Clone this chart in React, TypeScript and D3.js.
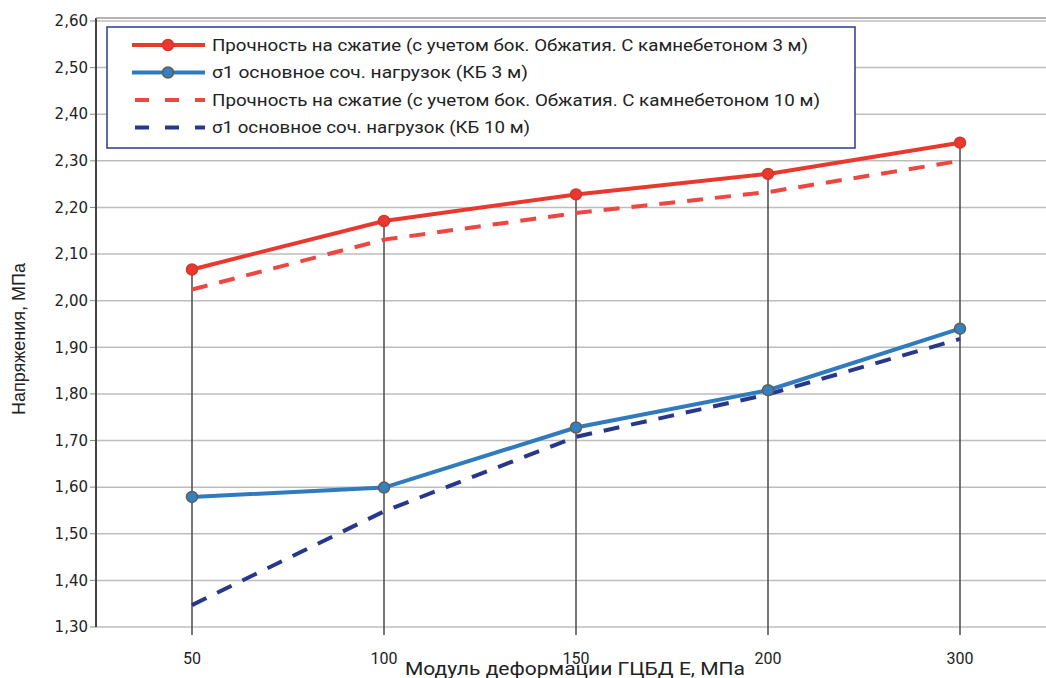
import * as d3 from "d3";

const categories = ["50", "100", "150", "200", "300"];
const strength3m = [2.067, 2.171, 2.228, 2.272, 2.339];
const sigma3m = [1.579, 1.599, 1.728, 1.808, 1.94];
const strength10m = [2.024, 2.131, 2.188, 2.233, 2.3];
const sigma10m = [1.347, 1.548, 1.708, 1.799, 1.918];
const yTicks = [1.3, 1.4, 1.5, 1.6, 1.7, 1.8, 1.9, 2.0, 2.1, 2.2, 2.3, 2.4, 2.5, 2.6];

const legendItems = [
  { label: "Прочность на сжатие (с учетом бок. Обжатия. С камнебетоном 3 м)", width: 596, color: "#e8392e", dash: false, marker: true, mfill: "#e8392e", mstroke: "#d2362c" },
  { label: "σ1 основное соч. нагрузок (КБ 3 м)", width: 316, color: "#2f7bbd", dash: false, marker: true, mfill: "#2f82c4", mstroke: "#6a5a4c" },
  { label: "Прочность на сжатие (с учетом бок. Обжатия. С камнебетоном 10 м)", width: 608, color: "#ee4640", dash: true, marker: false },
  { label: "σ1 основное соч. нагрузок (КБ 10 м)", width: 318, color: "#27378a", dash: true, marker: false },
];

const FONT = "Roboto, 'Open Sans', sans-serif";

export default function App() {
  const W = 1046;
  const H = 678;
  const left = 96;
  const top = 21;
  const bottom = 627;

  const x = d3.scalePoint<string>().domain(categories).range([left, left + 960]).padding(0.5);
  const y = d3.scaleLinear().domain([1.3, 2.6]).range([bottom, top]);
  const fmt = (v: number) => v.toFixed(2).replace(".", ",");

  const line = d3
    .line<number>()
    .x((_, i) => x(categories[i])!)
    .y((d) => y(d));

  const series = [strength3m, sigma3m, strength10m, sigma10m];
  const drawOrder = [3, 2, 1, 0];

  return (
    <svg width={W} height={H} style={{ position: "fixed", left: 0, top: 0, background: "#fff" }}>
      {/* gridlines */}
      {yTicks.map((t) => (
        <g key={t}>
          <line x1={left} x2={W} y1={y(t)} y2={y(t)} stroke="#bdbdbd" strokeWidth={1.5} />
          <line x1={left - 6} x2={left} y1={y(t)} y2={y(t)} stroke="#888" strokeWidth={1} />
          <text x={88} y={y(t)} dy="0.35em" textAnchor="end" fontFamily="DejaVu Sans" fontSize={15} fill="#222">
            {fmt(t)}
          </text>
        </g>
      ))}
      <line x1={left} x2={left} y1={top - 3} y2={bottom} stroke="#444" strokeWidth={2} />
      <line x1={left} x2={W} y1={top - 3} y2={top - 3} stroke="#9a9a9a" strokeWidth={1.5} />

      {/* drop lines */}
      {categories.map((c, i) => (
        <line
          key={c}
          x1={x(c)!}
          x2={x(c)!}
          y1={y(Math.max(strength3m[i], strength10m[i]))}
          y2={bottom + 8}
          stroke="#4a4a4a"
          strokeWidth={1.5}
        />
      ))}

      {/* series */}
      {drawOrder.map((si) => {
        const it = legendItems[si];
        return (
          <path
            key={si}
            d={line(series[si])!}
            fill="none"
            stroke={it.color}
            strokeWidth={4}
            strokeDasharray={it.dash ? "16,12" : undefined}
          />
        );
      })}
      {[1, 0].map((si) =>
        series[si].map((v, i) => (
          <circle
            key={`${si}-${i}`}
            cx={x(categories[i])!}
            cy={y(v)}
            r={5.5}
            fill={legendItems[si].mfill}
            stroke={legendItems[si].mstroke}
            strokeWidth={1.5}
          />
        ))
      )}

      {/* x tick labels */}
      {categories.map((c) => (
        <text key={c} x={x(c)!} y={664} textAnchor="middle" fontFamily={FONT} fontSize={16} fill="#222">
          {c}
        </text>
      ))}
      <text
        x={575}
        y={675}
        textAnchor="middle"
        fontFamily={FONT}
        fontSize={18}
        textLength={340}
        lengthAdjust="spacingAndGlyphs"
        fill="#222"
      >
        Модуль деформации ГЦБД Е, МПа
      </text>
      <text
        transform={`translate(25,${339}) rotate(-90)`}
        textAnchor="middle"
        fontFamily="Liberation Sans"
        fontSize={18}
        fill="#222"
      >
        Напряжения, МПа
      </text>

      {/* legend */}
      <g>
        <rect x={107} y={27} width={748} height={121} fill="#fff" stroke="#2b3a8a" strokeWidth={1.5} />
        {legendItems.map((it, i) => {
          const ly = 45 + i * 27.5;
          return (
            <g key={i}>
              <line
                x1={132}
                x2={205}
                y1={ly}
                y2={ly}
                stroke={it.color}
                strokeWidth={4}
                strokeDasharray={it.dash ? "14,16" : undefined}
                strokeDashoffset={it.dash ? -3 : 0}
              />
              {it.marker && <circle cx={168} cy={ly} r={5.5} fill={it.mfill} stroke={it.mstroke} strokeWidth={1.5} />}
              <text
                x={212}
                y={ly}
                dy="0.35em"
                fontFamily={FONT}
                fontSize={17}
                textLength={it.width}
                lengthAdjust="spacingAndGlyphs"
                fill="#222"
              >
                {it.label}
              </text>
            </g>
          );
        })}
      </g>
    </svg>
  );
}
